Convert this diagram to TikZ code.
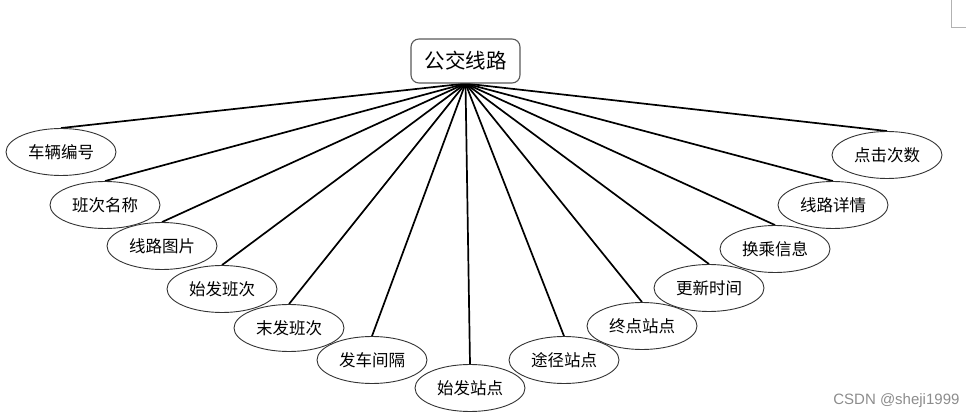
\documentclass[tikz,border=0pt]{standalone}
\usepackage{fontspec}
\newfontfamily\cjk{Noto Sans CJK SC}
\newfontfamily\wmfont{Liberation Sans}
\usetikzlibrary{shapes.geometric,backgrounds}
\tikzset{
  attr/.style={ellipse, draw=black!80, line width=0.9pt, fill=white, minimum width=110pt, minimum height=47pt, inner sep=0pt, font=\cjk\fontsize{16.5}{18}\selectfont},
  entity/.style={rectangle, rounded corners=8pt, draw=black!65, line width=1.1pt, fill=white, minimum width=109pt, minimum height=44pt, inner sep=0pt, font=\cjk\fontsize{20.5}{22}\selectfont},
  link/.style={line width=1.7pt, black}
}
\begin{document}
\begin{tikzpicture}[x=1pt,y=-1pt]
\useasboundingbox (0,0) rectangle (966,419);
\node[entity] (top) at (465.5,61) {公交线路};
\node[attr] (a1) at (61,152) {车辆编号};
\node[attr] (a2) at (105,205) {班次名称};
\node[attr] (a3) at (162,246) {线路图片};
\node[attr] (a4) at (222,289) {始发班次};
\node[attr] (a5) at (289,328) {末发班次};
\node[attr] (a6) at (372,360) {发车间隔};
\node[attr] (a7) at (470,388) {始发站点};
\node[attr] (a8) at (564,360) {途径站点};
\node[attr] (a9) at (642,326) {终点站点};
\node[attr] (a10) at (709,288) {更新时间};
\node[attr] (a11) at (775,249) {换乘信息};
\node[attr] (a12) at (833,205) {线路详情};
\node[attr] (a13) at (887,155) {点击次数};
\begin{scope}[on background layer]
\foreach \i in {1,...,13} {
  \draw[link] (top.south) -- (a\i.north);
}
\end{scope}
\draw[black!30, line width=0.8pt] (951,0) -- (951,27) -- (966,27);
\node[font=\wmfont\fontsize{15}{16}\selectfont, text=black!45, anchor=east] (wm) at (963,401) {CSDN @sheji1999};
\end{tikzpicture}
\end{document}
